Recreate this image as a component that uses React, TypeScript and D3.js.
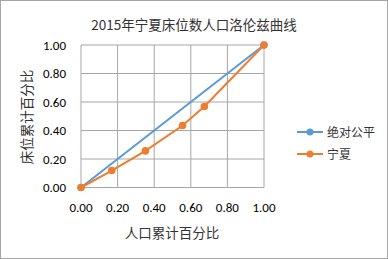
import React from "react";
import * as d3 from "d3";

const equalityX = [0, 1];
const equalityY = [0, 1];
const ningxiaX = [0, 0.168, 0.352, 0.555, 0.674, 1];
const ningxiaY = [0, 0.119, 0.257, 0.435, 0.568, 1];
const ticks = [0, 0.2, 0.4, 0.6, 0.8, 1.0];
const seriesNames = ["绝对公平", "宁夏"];
const title = "2015年宁夏床位数人口洛伦兹曲线";
const xTitle = "人口累计百分比";
const yTitle = "床位累计百分比";

export default function App() {
  const W = 388, H = 259;
  const x = d3.scaleLinear().domain([0, 1]).range([81, 264]);
  const y = d3.scaleLinear().domain([0, 1]).range([187.5, 45]);
  const line = d3.line<[number, number]>().x(d => x(d[0])).y(d => y(d[1]));
  const eq: [number, number][] = equalityX.map((v, i) => [v, equalityY[i]]);
  const nx: [number, number][] = ningxiaX.map((v, i) => [v, ningxiaY[i]]);
  const blue = "#5B9BD5", orange = "#ED7D31";
  const tickFont = "Carlito, 'Liberation Sans', 'Noto Sans', sans-serif";
  const cjk = "'Noto Sans CJK SC', sans-serif";
  return (
    <svg width={W} height={H} style={{ position: "absolute", left: 0, top: 0 }}>
      <rect x={0.5} y={0.5} width={W - 1} height={H - 1} fill="#fff" stroke="#A6A6A6" />
      <text x={194} y={30} textAnchor="middle" fontSize={13.5} fontFamily={cjk} fill="#333">{title}</text>
      {ticks.map(t => (
        <line key={"h" + t} x1={x(0)} x2={x(1)} y1={y(t)} y2={y(t)} stroke="#A6A6A6" strokeWidth={1} />
      ))}
      {ticks.map(t => (
        <line key={"v" + t} x1={x(t)} x2={x(t)} y1={y(0)} y2={y(1)} stroke="#A6A6A6" strokeWidth={1} />
      ))}
      {ticks.map(t => (
        <text key={"yl" + t} x={66} y={y(t) + 4.5} textAnchor="end" fontSize={13} fontFamily={tickFont} fill="#000">{t.toFixed(2)}</text>
      ))}
      {ticks.map(t => (
        <text key={"xl" + t} x={x(t)} y={211.5} textAnchor="middle" fontSize={13} fontFamily={tickFont} fill="#000">{t.toFixed(2)}</text>
      ))}
      <text x={172} y={238} textAnchor="middle" fontSize={13.5} fontFamily={cjk} fill="#333">{xTitle}</text>
      <text transform="translate(32,117) rotate(-90)" textAnchor="middle" fontSize={13.5} fontFamily={cjk} fill="#333">{yTitle}</text>
      <path d={line(eq) || ""} fill="none" stroke={blue} strokeWidth={2} />
      {eq.map((d, i) => <circle key={"eb" + i} cx={x(d[0])} cy={y(d[1])} r={3.5} fill={blue} />)}
      <path d={line(nx) || ""} fill="none" stroke={orange} strokeWidth={2} />
      {nx.map((d, i) => <circle key={"nx" + i} cx={x(d[0])} cy={y(d[1])} r={3.8} fill={orange} />)}
      <line x1={297} x2={323} y1={132} y2={132} stroke={blue} strokeWidth={2} />
      <circle cx={310} cy={132} r={3.5} fill={blue} />
      <text x={327} y={136.5} fontSize={12} fontFamily={cjk} fill="#333">{seriesNames[0]}</text>
      <line x1={297} x2={323} y1={154} y2={154} stroke={orange} strokeWidth={2} />
      <circle cx={310} cy={154} r={3.5} fill={orange} />
      <text x={327} y={158.5} fontSize={12} fontFamily={cjk} fill="#333">{seriesNames[1]}</text>
    </svg>
  );
}
